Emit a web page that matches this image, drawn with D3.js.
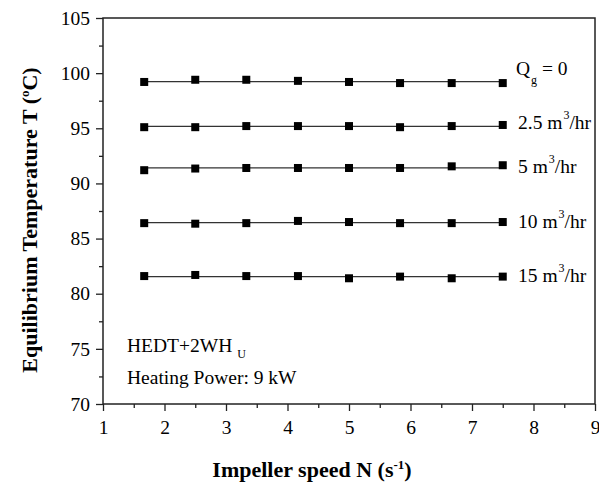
<!DOCTYPE html>
<html>
<head>
<meta charset="utf-8">
<script src="https://cdn.jsdelivr.net/npm/d3@7"></script>
<style>
  body { margin: 0; background: #fff; }
</style>
</head>
<body>
<script>
    // impeller speeds (s^-1)
    var speeds = [1.67, 2.5, 3.33, 4.17, 5.0, 5.83, 6.67, 7.5];

    // equilibrium temperature for each gas flow rate
    var tQ0   = [99.2, 99.4, 99.4, 99.3, 99.2, 99.1, 99.1, 99.1];
    var tQ2_5 = [95.1, 95.1, 95.2, 95.2, 95.2, 95.1, 95.2, 95.3];
    var tQ5   = [91.2, 91.35, 91.4, 91.4, 91.4, 91.4, 91.55, 91.65];
    var tQ10  = [86.4, 86.35, 86.4, 86.6, 86.5, 86.4, 86.4, 86.5];
    var tQ15  = [81.6, 81.7, 81.6, 81.6, 81.4, 81.55, 81.4, 81.55];

    var seriesValues = [tQ0, tQ2_5, tQ5, tQ10, tQ15];

    var xTicks = [1, 2, 3, 4, 5, 6, 7, 8, 9];
    var yTicks = [70, 75, 80, 85, 90, 95, 100, 105];

    var FONT = "Liberation Serif";
    var FS = 19.5;

    var margin = {top: 18, right: 4, bottom: 82, left: 103};
    var width = 599 - margin.left - margin.right;
    var height = 486 - margin.top - margin.bottom;

    var svg = d3.select("body").append("svg")
        .attr("width", 599)
        .attr("height", 486);

    var g = svg.append("g")
        .attr("transform", "translate(" + margin.left + "," + margin.top + ")");

    var xScale = d3.scaleLinear().domain([1, 9]).range([0, width]);
    var yScale = d3.scaleLinear().domain([70, 105]).range([height, 0]);

    // minor ticks
    g.append("g")
        .attr("transform", "translate(0," + height + ")")
        .call(d3.axisBottom(xScale).tickValues(d3.range(1.5, 9, 1)).tickSize(4).tickFormat(""))
        .call(function (a) { a.select(".domain").remove(); });
    g.append("g")
        .call(d3.axisLeft(yScale).tickValues(d3.range(72.5, 105, 5)).tickSize(4).tickFormat(""))
        .call(function (a) { a.select(".domain").remove(); });

    // major axes
    g.append("g")
        .attr("class", "x axis")
        .attr("transform", "translate(0," + height + ")")
        .call(d3.axisBottom(xScale).tickValues(xTicks).tickSize(7).tickPadding(9).tickFormat(d3.format("d")));

    g.append("g")
        .attr("class", "y axis")
        .call(d3.axisLeft(yScale).tickValues(yTicks).tickSize(7).tickPadding(6).tickFormat(d3.format("d")));

    svg.selectAll(".axis").attr("font-family", FONT).attr("font-size", FS);
    svg.selectAll(".axis text").attr("font-family", FONT).attr("font-size", FS).attr("fill", "#000");
    svg.selectAll(".axis .domain").remove();
    svg.selectAll(".tick line").attr("stroke", "#222").attr("stroke-width", 1.3);

    // frame
    g.append("rect")
        .attr("x", 0).attr("y", 0)
        .attr("width", width).attr("height", height)
        .attr("fill", "none")
        .attr("stroke", "#222")
        .attr("stroke-width", 1.5);

    // mean lines and markers
    seriesValues.forEach(function (vals) {
        var pts = speeds.map(function (s, i) { return [s, vals[i]]; });
        var my = d3.mean(vals);

        g.append("line")
            .attr("x1", xScale(d3.min(speeds))).attr("y1", yScale(my))
            .attr("x2", xScale(d3.max(speeds))).attr("y2", yScale(my))
            .attr("stroke", "#333")
            .attr("stroke-width", 1.2);

        g.selectAll(null)
            .data(pts)
            .enter().append("rect")
            .attr("x", function (d) { return xScale(d[0]) - 4; })
            .attr("y", function (d) { return yScale(d[1]) - 4; })
            .attr("width", 8)
            .attr("height", 8)
            .attr("fill", "#000");
    });

    function label(x, y, size) {
        return svg.append("text")
            .attr("x", x)
            .attr("y", y)
            .attr("font-family", FONT)
            .attr("font-size", size);
    }

    // series labels
    var q = label(516, 75, FS);
    q.append("tspan").text("Q");
    q.append("tspan").attr("dx", 1).attr("dy", 9).attr("font-size", 12).text("g");
    q.append("tspan").attr("dy", -9).text(" = 0");

    [[129, "2.5"], [173, "5"], [228, "10"], [282, "15"]].forEach(function (l) {
        var t = label(518, l[0], FS);
        t.append("tspan").text(l[1] + " m");
        t.append("tspan").attr("dx", 1).attr("dy", -10).attr("font-size", 12).text("3");
        t.append("tspan").attr("dy", 10).text("/hr");
    });

    // annotation
    var a1 = label(127, 352, FS);
    a1.append("tspan").text("HEDT+2WH");
    a1.append("tspan").attr("dx", 5).attr("dy", 6).attr("font-size", 12).text("U");

    label(127, 384, FS).text("Heating Power: 9 kW");

    // axis titles
    var xt = svg.append("text")
        .attr("x", 312)
        .attr("y", 477)
        .attr("text-anchor", "middle")
        .attr("font-family", FONT)
        .attr("font-size", 22)
        .attr("font-weight", "bold");
    xt.append("tspan").text("Impeller speed N (s");
    xt.append("tspan").attr("dy", -8).attr("font-size", 13).text("-1");
    xt.append("tspan").attr("dy", 8).text(")");

    var yt = svg.append("text")
        .attr("transform", "translate(37,220) rotate(-90)")
        .attr("text-anchor", "middle")
        .attr("font-family", FONT)
        .attr("font-size", 22)
        .attr("font-weight", "bold");
    yt.append("tspan").text("Equilibrium Temperature T (");
    yt.append("tspan").attr("dy", -8).attr("font-size", 13).text("o");
    yt.append("tspan").attr("dy", 8).text("C)");
</script>
</body>
</html>
